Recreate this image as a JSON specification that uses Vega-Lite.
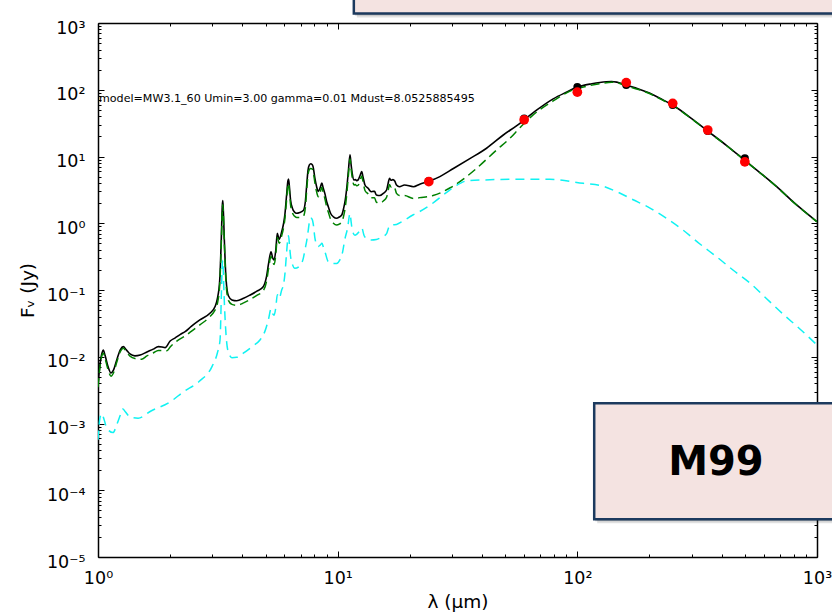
{
  "$schema": "https://vega.github.io/schema/vega-lite/v6.json",
  "width": 719,
  "height": 534,
  "autosize": {"type": "none"},
  "padding": {"left": 98, "top": 23, "right": 15, "bottom": 56},
  "background": "#ffffff",
  "config": {
    "view": {"stroke": null},
    "font": "DejaVu Sans",
    "text": {"font": "DejaVu Sans"}
  },
  "datasets": {
    "total": [
      {"wl":1.0,"f":0.0038},{"wl":1.02,"f":0.0078},{"wl":1.04,"f":0.0115},{"wl":1.052,"f":0.0126},{"wl":1.07,"f":0.0105},
      {"wl":1.1,"f":0.0072},{"wl":1.133,"f":0.0057},{"wl":1.16,"f":0.0063},{"wl":1.2,"f":0.0092},{"wl":1.24,"f":0.0128},
      {"wl":1.275,"f":0.0142},{"wl":1.31,"f":0.0128},{"wl":1.36,"f":0.011},{"wl":1.426,"f":0.0103},{"wl":1.5,"f":0.0106},
      {"wl":1.6,"f":0.0118},{"wl":1.7,"f":0.013},{"wl":1.785,"f":0.0142},{"wl":1.85,"f":0.014},{"wl":1.904,"f":0.0137},
      {"wl":2.0,"f":0.0172},{"wl":2.1,"f":0.0192},{"wl":2.2,"f":0.0215},{"wl":2.31,"f":0.0238},{"wl":2.45,"f":0.0285},
      {"wl":2.66,"f":0.0356},{"wl":2.93,"f":0.0448},{"wl":3.08,"f":0.0565},{"wl":3.15,"f":0.075},{"wl":3.22,"f":0.14},
      {"wl":3.27,"f":0.6},{"wl":3.3,"f":1.8},{"wl":3.315,"f":2.18},{"wl":3.33,"f":1.7},{"wl":3.37,"f":0.5},
      {"wl":3.42,"f":0.15},{"wl":3.5,"f":0.082},{"wl":3.62,"f":0.071},{"wl":3.79,"f":0.069},{"wl":4.05,"f":0.075},
      {"wl":4.31,"f":0.084},{"wl":4.6,"f":0.096},{"wl":4.89,"f":0.112},{"wl":5.05,"f":0.16},{"wl":5.15,"f":0.25},
      {"wl":5.27,"f":0.375},{"wl":5.36,"f":0.3},{"wl":5.43,"f":0.281},{"wl":5.52,"f":0.4},{"wl":5.6,"f":0.706},
      {"wl":5.7,"f":0.575},{"wl":5.84,"f":0.746},{"wl":5.95,"f":1.0},{"wl":6.03,"f":1.41},{"wl":6.12,"f":2.6},
      {"wl":6.2,"f":4.3},{"wl":6.24,"f":4.6},{"wl":6.3,"f":3.3},{"wl":6.36,"f":2.23},{"wl":6.48,"f":1.67},
      {"wl":6.6,"f":1.48},{"wl":6.74,"f":1.41},{"wl":6.95,"f":1.45},{"wl":7.19,"f":1.55},{"wl":7.33,"f":2.1},
      {"wl":7.43,"f":3.8},{"wl":7.52,"f":6.2},{"wl":7.62,"f":7.5},{"wl":7.72,"f":7.8},{"wl":7.82,"f":7.6},
      {"wl":7.9,"f":7.0},{"wl":8.03,"f":4.8},{"wl":8.17,"f":3.53},{"wl":8.3,"f":3.0},{"wl":8.45,"f":3.4},
      {"wl":8.59,"f":4.0},{"wl":8.7,"f":3.4},{"wl":8.84,"f":2.8},{"wl":9.0,"f":2.1},{"wl":9.14,"f":1.77},
      {"wl":9.35,"f":1.4},{"wl":9.6,"f":1.25},{"wl":9.9,"f":1.19},{"wl":10.15,"f":1.24},{"wl":10.4,"f":1.33},
      {"wl":10.6,"f":1.7},{"wl":10.75,"f":2.2},{"wl":10.95,"f":3.8},{"wl":11.1,"f":6.5},{"wl":11.26,"f":10.6},
      {"wl":11.38,"f":7.5},{"wl":11.5,"f":5.6},{"wl":11.7,"f":4.45},{"wl":11.85,"f":4.5},{"wl":12.0,"f":4.35},
      {"wl":12.2,"f":4.5},{"wl":12.4,"f":5.2},{"wl":12.6,"f":5.95},{"wl":12.75,"f":5.0},{"wl":13.0,"f":3.74},
      {"wl":13.4,"f":3.34},{"wl":13.8,"f":2.97},{"wl":14.1,"f":3.0},{"wl":14.25,"f":3.0},{"wl":14.5,"f":2.65},
      {"wl":15.0,"f":2.6},{"wl":15.5,"f":2.8},{"wl":16.0,"f":3.15},{"wl":16.25,"f":4.0},{"wl":16.45,"f":4.7},
      {"wl":16.7,"f":4.4},{"wl":17.0,"f":4.5},{"wl":17.3,"f":4.3},{"wl":17.6,"f":3.74},{"wl":18.1,"f":3.53},
      {"wl":19.0,"f":3.74},{"wl":20.7,"f":3.53},{"wl":22.0,"f":3.85},{"wl":24.0,"f":4.25},{"wl":26.7,"f":5.0},
      {"wl":30.4,"f":6.6},{"wl":35.6,"f":9.3},{"wl":41.8,"f":13.3},{"wl":49.1,"f":21.0},{"wl":57.6,"f":31.4},
      {"wl":60.1,"f":35.5},{"wl":67.8,"f":49.8},{"wl":79.3,"f":73.0},{"wl":90.0,"f":92.0},{"wl":99.0,"f":108},
      {"wl":115,"f":123},{"wl":132,"f":132},{"wl":139,"f":133},{"wl":146,"f":130},
      {"wl":158.6,"f":118},{"wl":180,"f":103},{"wl":201,"f":88.5},{"wl":225,"f":72.0},{"wl":249.6,"f":59.2},
      {"wl":300,"f":37.0},{"wl":348,"f":24.4},{"wl":420,"f":14.6},{"wl":502,"f":8.65},{"wl":590,"f":5.4},
      {"wl":679,"f":3.53},{"wl":800,"f":2.05},{"wl":1000,"f":1.055}
    ],
    "diffuse": [
      {"wl":1.0,"f":0.0035},{"wl":1.02,"f":0.0072},{"wl":1.04,"f":0.0106},{"wl":1.052,"f":0.0113},{"wl":1.07,"f":0.0095},
      {"wl":1.1,"f":0.0065},{"wl":1.133,"f":0.0051},{"wl":1.16,"f":0.0057},{"wl":1.2,"f":0.0085},{"wl":1.24,"f":0.012},
      {"wl":1.275,"f":0.0134},{"wl":1.31,"f":0.012},{"wl":1.36,"f":0.0102},{"wl":1.426,"f":0.0094},{"wl":1.52,"f":0.0092},
      {"wl":1.6,"f":0.0103},{"wl":1.7,"f":0.0114},{"wl":1.785,"f":0.0124},{"wl":1.85,"f":0.0124},{"wl":1.94,"f":0.0123},
      {"wl":2.0,"f":0.014},{"wl":2.16,"f":0.0178},{"wl":2.31,"f":0.0205},{"wl":2.45,"f":0.024},{"wl":2.66,"f":0.03},
      {"wl":2.93,"f":0.0398},{"wl":3.05,"f":0.0473},{"wl":3.15,"f":0.063},{"wl":3.22,"f":0.12},{"wl":3.27,"f":0.5},
      {"wl":3.3,"f":1.55},{"wl":3.315,"f":1.9},{"wl":3.33,"f":1.5},{"wl":3.37,"f":0.45},{"wl":3.42,"f":0.13},
      {"wl":3.5,"f":0.07},{"wl":3.62,"f":0.061},{"wl":3.79,"f":0.059},{"wl":4.05,"f":0.064},{"wl":4.31,"f":0.072},
      {"wl":4.6,"f":0.083},{"wl":4.89,"f":0.097},{"wl":5.05,"f":0.135},{"wl":5.15,"f":0.21},{"wl":5.27,"f":0.32},
      {"wl":5.36,"f":0.26},{"wl":5.43,"f":0.24},{"wl":5.52,"f":0.34},{"wl":5.6,"f":0.61},{"wl":5.7,"f":0.5},
      {"wl":5.84,"f":0.65},{"wl":5.95,"f":0.87},{"wl":6.03,"f":1.2},{"wl":6.12,"f":2.2},{"wl":6.2,"f":3.7},
      {"wl":6.24,"f":3.95},{"wl":6.3,"f":2.85},{"wl":6.36,"f":1.9},{"wl":6.48,"f":1.42},{"wl":6.6,"f":1.28},
      {"wl":6.74,"f":1.22},{"wl":6.95,"f":1.22},{"wl":7.19,"f":1.27},{"wl":7.33,"f":1.7},{"wl":7.43,"f":3.2},
      {"wl":7.52,"f":5.3},{"wl":7.62,"f":6.4},{"wl":7.72,"f":6.6},{"wl":7.82,"f":6.5},{"wl":7.9,"f":6.0},
      {"wl":8.03,"f":4.1},{"wl":8.17,"f":2.95},{"wl":8.3,"f":2.5},{"wl":8.45,"f":2.9},{"wl":8.59,"f":3.45},
      {"wl":8.7,"f":2.9},{"wl":8.84,"f":2.35},{"wl":9.0,"f":1.75},{"wl":9.14,"f":1.47},{"wl":9.35,"f":1.14},
      {"wl":9.6,"f":1.0},{"wl":9.9,"f":0.94},{"wl":10.15,"f":0.97},{"wl":10.4,"f":1.05},{"wl":10.6,"f":1.3},
      {"wl":10.75,"f":1.7},{"wl":10.95,"f":3.1},{"wl":11.1,"f":5.5},{"wl":11.26,"f":9.2},{"wl":11.38,"f":6.5},
      {"wl":11.5,"f":4.8},{"wl":11.7,"f":3.75},{"wl":11.85,"f":3.8},{"wl":12.0,"f":3.65},{"wl":12.2,"f":3.75},
      {"wl":12.4,"f":4.4},{"wl":12.6,"f":5.1},{"wl":12.75,"f":4.25},{"wl":13.0,"f":3.1},{"wl":13.4,"f":2.75},
      {"wl":13.8,"f":2.4},{"wl":14.1,"f":2.4},{"wl":14.25,"f":2.4},{"wl":14.5,"f":2.08},{"wl":15.0,"f":2.0},
      {"wl":15.5,"f":2.15},{"wl":16.0,"f":2.45},{"wl":16.25,"f":3.1},{"wl":16.45,"f":3.8},{"wl":16.7,"f":3.5},
      {"wl":17.0,"f":3.6},{"wl":17.3,"f":3.4},{"wl":17.6,"f":2.8},{"wl":18.1,"f":2.6},{"wl":19.0,"f":2.6},
      {"wl":20.7,"f":2.35},{"wl":22.0,"f":2.42},{"wl":25.0,"f":2.6},{"wl":29.5,"f":3.4},{"wl":34.5,"f":5.0},
      {"wl":37.9,"f":6.6},{"wl":46.0,"f":12.5},{"wl":52.4,"f":18.8},{"wl":57.6,"f":27.0},{"wl":65.4,"f":42.0},
      {"wl":79.3,"f":68.0},{"wl":96.2,"f":100},{"wl":105,"f":109},{"wl":124,"f":123},{"wl":139,"f":129.5},
      {"wl":146,"f":127.5},
      {"wl":158.6,"f":115.5},{"wl":180,"f":101},{"wl":201,"f":87.0},{"wl":225,"f":71.0},{"wl":249.6,"f":58.5},
      {"wl":300,"f":36.6},{"wl":348,"f":24.2},{"wl":420,"f":14.5},{"wl":502,"f":8.6},{"wl":590,"f":5.37},
      {"wl":679,"f":3.51},{"wl":800,"f":2.04},{"wl":1000,"f":1.05}
    ],
    "pdr": [
      {"wl":1.0,"f":0.00057},{"wl":1.019,"f":0.00121},{"wl":1.035,"f":0.0014},{"wl":1.06,"f":0.00115},{"wl":1.087,"f":0.00086},
      {"wl":1.155,"f":0.00073},{"wl":1.2,"f":0.00098},{"wl":1.247,"f":0.00142},{"wl":1.27,"f":0.00165},{"wl":1.3,"f":0.0015},
      {"wl":1.36,"f":0.00125},{"wl":1.47,"f":0.0012},{"wl":1.664,"f":0.00154},{"wl":1.997,"f":0.0021},{"wl":2.283,"f":0.00302},
      {"wl":2.64,"f":0.00426},{"wl":3.0,"f":0.0073},{"wl":3.15,"f":0.0115},{"wl":3.23,"f":0.0178},{"wl":3.27,"f":0.08},
      {"wl":3.3,"f":0.24},{"wl":3.315,"f":0.28},{"wl":3.33,"f":0.2},{"wl":3.37,"f":0.06},{"wl":3.42,"f":0.022},
      {"wl":3.48,"f":0.0126},{"wl":3.62,"f":0.0097},{"wl":3.79,"f":0.0098},{"wl":4.04,"f":0.0113},{"wl":4.43,"f":0.0145},
      {"wl":4.74,"f":0.0178},{"wl":4.97,"f":0.024},{"wl":5.15,"f":0.037},{"wl":5.27,"f":0.052},{"wl":5.36,"f":0.044},
      {"wl":5.43,"f":0.042},{"wl":5.52,"f":0.055},{"wl":5.6,"f":0.085},{"wl":5.7,"f":0.075},{"wl":5.84,"f":0.1},
      {"wl":5.94,"f":0.119},{"wl":6.03,"f":0.18},{"wl":6.12,"f":0.36},{"wl":6.2,"f":0.6},{"wl":6.24,"f":0.65},
      {"wl":6.3,"f":0.45},{"wl":6.36,"f":0.32},{"wl":6.48,"f":0.24},{"wl":6.63,"f":0.211},{"wl":6.95,"f":0.23},
      {"wl":7.19,"f":0.3},{"wl":7.3,"f":0.398},{"wl":7.43,"f":0.55},{"wl":7.54,"f":0.79},{"wl":7.62,"f":1.05},
      {"wl":7.72,"f":1.2},{"wl":7.82,"f":1.15},{"wl":7.9,"f":1.0},{"wl":8.04,"f":0.594},{"wl":8.17,"f":0.48},
      {"wl":8.3,"f":0.45},{"wl":8.45,"f":0.47},{"wl":8.6,"f":0.5},{"wl":8.7,"f":0.45},{"wl":8.84,"f":0.38},
      {"wl":9.14,"f":0.265},{"wl":9.5,"f":0.25},{"wl":9.9,"f":0.25},{"wl":10.2,"f":0.28},{"wl":10.5,"f":0.38},
      {"wl":10.7,"f":0.56},{"wl":11.0,"f":0.85},{"wl":11.26,"f":1.4},{"wl":11.38,"f":1.05},{"wl":11.5,"f":0.8},
      {"wl":11.8,"f":0.66},{"wl":12.0,"f":0.68},{"wl":12.3,"f":0.75},{"wl":12.6,"f":0.85},{"wl":12.9,"f":0.65},
      {"wl":13.3,"f":0.58},{"wl":13.8,"f":0.56},{"wl":14.5,"f":0.57},{"wl":15.0,"f":0.6},{"wl":16.0,"f":0.7},
      {"wl":16.3,"f":0.85},{"wl":16.6,"f":0.94},{"wl":17.0,"f":0.95},{"wl":17.6,"f":0.96},{"wl":18.5,"f":1.05},
      {"wl":20.6,"f":1.33},{"wl":22.0,"f":1.5},{"wl":24.3,"f":1.87},{"wl":28.5,"f":2.9},{"wl":31.0,"f":3.6},
      {"wl":34.5,"f":4.3},{"wl":40.5,"f":4.45},{"wl":55.7,"f":4.55},{"wl":76.7,"f":4.55},{"wl":106,"f":3.96},
      {"wl":124,"f":3.7},{"wl":146,"f":2.97},{"wl":171,"f":2.25},{"wl":201,"f":1.69},{"wl":236,"f":1.18},
      {"wl":275.8,"f":0.792},{"wl":324.7,"f":0.489},{"wl":382.3,"f":0.312},{"wl":445.8,"f":0.1995},{"wl":525,"f":0.1273},
      {"wl":618,"f":0.0733},{"wl":720.6,"f":0.0437},{"wl":848.6,"f":0.0261},{"wl":1000,"f":0.015}
    ],
    "model_phot": [
      {"wl":24,"f":4.3},{"wl":60,"f":37},{"wl":100,"f":110},{"wl":160,"f":118},
      {"wl":250,"f":59},{"wl":350,"f":24.2},{"wl":500,"f":9.4}
    ],
    "observed": [
      {"wl":24,"f":4.2},{"wl":60,"f":35.5},{"wl":100,"f":92},{"wl":160,"f":128},
      {"wl":250,"f":62.6},{"wl":350,"f":24.9},{"wl":500,"f":8.3}
    ],
    "notes": [
      {"wl":1.0,"f":72.7,"label":"model=MW3.1_60 Umin=3.00 gamma=0.01 Mdust=8.0525885495"}
    ],
    "panels": [
      {"wl":117.6,"wl2":1250,"f":0.00201,"f2":0.0000367},
      {"wl":11.68,"wl2":1250,"f":1388,"f2":3120}
    ],
    "panel_labels": [
      {"wl":378.7,"f":0.000256,"label":"M99"}
    ]
  },
  "layer": [
    {
      "data": {"name": "total"},
      "mark": {"type": "line", "color": "#000000", "strokeWidth": 1.6, "interpolate": "monotone", "clip": true},
      "encoding": {
        "x": {
          "field": "wl", "type": "quantitative",
          "scale": {"type": "log", "domain": [1, 1000], "nice": false},
          "axis": {
            "orient": "bottom",
            "values": [1,2,3,4,5,6,7,8,9,10,20,30,40,50,60,70,80,90,100,200,300,400,500,600,700,800,900,1000],
            "labelExpr": "abs(log(datum.value)/LN10 - round(log(datum.value)/LN10)) > 0.001 ? '' : '10' + replace(replace(replace(replace(replace(replace(replace('' + round(log(datum.value)/LN10), '-', '⁻'), '0', '⁰'), '1', '¹'), '2', '²'), '3', '³'), '4', '⁴'), '5', '⁵')",
            "tickSize": {"condition": {"test": "abs(log(datum.value)/LN10 - round(log(datum.value)/LN10)) < 0.001", "value": -6}, "value": -3},
            "tickColor": "#000000", "tickWidth": 1,
            "domainColor": "#000000", "domainWidth": 1.5,
            "grid": false,
            "labelFont": "DejaVu Sans", "labelFontSize": 17.5, "labelColor": "#000000",
            "labelBaseline": "alphabetic", "labelPadding": 32.5,
            "labelFlush": false, "labelOverlap": false, "labelBound": false,
            "title": "λ (μm)", "titleFont": "DejaVu Sans", "titleFontSize": 18.5, "titleFontWeight": "normal", "titleColor": "#000000",
            "titleX": 359.5, "titleY": 50, "titleBaseline": "alphabetic", "titleAlign": "center"
          }
        },
        "y": {
          "field": "f", "type": "quantitative",
          "scale": {"type": "log", "domain": [0.00001, 1000], "nice": false},
          "axis": {
            "orient": "left",
            "values": [0.00001,0.00002,0.00003,0.00004,0.00005,0.00006,0.00007,0.00008,0.00009,
                       0.0001,0.0002,0.0003,0.0004,0.0005,0.0006,0.0007,0.0008,0.0009,
                       0.001,0.002,0.003,0.004,0.005,0.006,0.007,0.008,0.009,
                       0.01,0.02,0.03,0.04,0.05,0.06,0.07,0.08,0.09,
                       0.1,0.2,0.3,0.4,0.5,0.6,0.7,0.8,0.9,
                       1,2,3,4,5,6,7,8,9,10,20,30,40,50,60,70,80,90,
                       100,200,300,400,500,600,700,800,900,1000],
            "labelExpr": "abs(log(datum.value)/LN10 - round(log(datum.value)/LN10)) > 0.001 ? '' : '10' + replace(replace(replace(replace(replace(replace(replace('' + round(log(datum.value)/LN10), '-', '⁻'), '0', '⁰'), '1', '¹'), '2', '²'), '3', '³'), '4', '⁴'), '5', '⁵')",
            "tickSize": {"condition": {"test": "abs(log(datum.value)/LN10 - round(log(datum.value)/LN10)) < 0.001", "value": -6}, "value": -3},
            "tickColor": "#000000", "tickWidth": 1,
            "domainColor": "#000000", "domainWidth": 1.5,
            "grid": false,
            "labelFont": "DejaVu Sans", "labelFontSize": 17.5, "labelColor": "#000000",
            "labelAlign": "right", "labelBaseline": "alphabetic", "labelOffset": 10, "labelPadding": 19,
            "labelFlush": false, "labelOverlap": false, "labelBound": false,
            "title": "Fᵥ (Jy)", "titleFont": "DejaVu Sans", "titleFontSize": 18.5, "titleFontWeight": "normal", "titleColor": "#000000",
            "titleX": -65, "titleY": 267, "titleAngle": 270, "titleBaseline": "alphabetic", "titleAlign": "center"
          }
        }
      }
    },
    {
      "data": {"name": "diffuse"},
      "mark": {"type": "line", "color": "#008000", "strokeWidth": 1.5, "strokeDash": [9, 5], "interpolate": "monotone", "clip": true},
      "encoding": {
        "x": {
          "field": "wl", "type": "quantitative",
          "scale": {"type": "log", "domain": [1, 1000], "nice": false},
          "axis": {
            "orient": "top",
            "values": [1,2,3,4,5,6,7,8,9,10,20,30,40,50,60,70,80,90,100,200,300,400,500,600,700,800,900,1000],
            "labels": false, "title": null, "grid": false,
            "tickSize": {"condition": {"test": "abs(log(datum.value)/LN10 - round(log(datum.value)/LN10)) < 0.001", "value": -6}, "value": -3},
            "tickColor": "#000000", "tickWidth": 1,
            "domainColor": "#000000", "domainWidth": 1.5
          }
        },
        "y": {
          "field": "f", "type": "quantitative",
          "scale": {"type": "log", "domain": [0.00001, 1000], "nice": false},
          "axis": {
            "orient": "right",
            "values": [0.00001,0.00002,0.00003,0.00004,0.00005,0.00006,0.00007,0.00008,0.00009,
                       0.0001,0.0002,0.0003,0.0004,0.0005,0.0006,0.0007,0.0008,0.0009,
                       0.001,0.002,0.003,0.004,0.005,0.006,0.007,0.008,0.009,
                       0.01,0.02,0.03,0.04,0.05,0.06,0.07,0.08,0.09,
                       0.1,0.2,0.3,0.4,0.5,0.6,0.7,0.8,0.9,
                       1,2,3,4,5,6,7,8,9,10,20,30,40,50,60,70,80,90,
                       100,200,300,400,500,600,700,800,900,1000],
            "labels": false, "title": null, "grid": false,
            "tickSize": {"condition": {"test": "abs(log(datum.value)/LN10 - round(log(datum.value)/LN10)) < 0.001", "value": -6}, "value": -3},
            "tickColor": "#000000", "tickWidth": 1,
            "domainColor": "#000000", "domainWidth": 1.5
          }
        }
      }
    },
    {
      "data": {"name": "pdr"},
      "mark": {"type": "line", "color": "#10f2f2", "strokeWidth": 1.5, "strokeDash": [9, 6], "interpolate": "monotone", "clip": true},
      "encoding": {
        "x": {"field": "wl", "type": "quantitative", "scale": {"type": "log", "domain": [1, 1000], "nice": false}, "axis": null},
        "y": {"field": "f", "type": "quantitative", "scale": {"type": "log", "domain": [0.00001, 1000], "nice": false}, "axis": null}
      }
    },
    {
      "data": {"name": "model_phot"},
      "mark": {"type": "circle", "color": "#000000", "size": 64, "opacity": 1},
      "encoding": {
        "x": {"field": "wl", "type": "quantitative", "scale": {"type": "log", "domain": [1, 1000], "nice": false}, "axis": null},
        "y": {"field": "f", "type": "quantitative", "scale": {"type": "log", "domain": [0.00001, 1000], "nice": false}, "axis": null}
      }
    },
    {
      "data": {"name": "observed"},
      "mark": {"type": "circle", "color": "#ff0000", "size": 95, "opacity": 1},
      "encoding": {
        "x": {"field": "wl", "type": "quantitative", "scale": {"type": "log", "domain": [1, 1000], "nice": false}, "axis": null},
        "y": {"field": "f", "type": "quantitative", "scale": {"type": "log", "domain": [0.00001, 1000], "nice": false}, "axis": null}
      }
    },
    {
      "data": {"name": "notes"},
      "mark": {"type": "text", "align": "left", "baseline": "middle", "dx": 1, "fontSize": 11.1, "color": "#000000", "font": "DejaVu Sans"},
      "encoding": {
        "x": {"field": "wl", "type": "quantitative", "scale": {"type": "log", "domain": [1, 1000], "nice": false}, "axis": null},
        "y": {"field": "f", "type": "quantitative", "scale": {"type": "log", "domain": [0.00001, 1000], "nice": false}, "axis": null},
        "text": {"field": "label"}
      }
    },
    {
      "data": {"name": "panels"},
      "mark": {"type": "rect", "color": "#000000", "opacity": 0.12, "clip": false, "xOffset": 3, "x2Offset": 3, "yOffset": 4, "y2Offset": 4},
      "encoding": {
        "x": {"field": "wl", "type": "quantitative", "scale": {"type": "log", "domain": [1, 1000], "nice": false}, "axis": null},
        "x2": {"field": "wl2"},
        "y": {"field": "f", "type": "quantitative", "scale": {"type": "log", "domain": [0.00001, 1000], "nice": false}, "axis": null},
        "y2": {"field": "f2"}
      }
    },
    {
      "data": {"name": "panels"},
      "mark": {"type": "rect", "color": "#000000", "opacity": 0.2, "clip": false, "xOffset": 1, "x2Offset": 1, "yOffset": 2, "y2Offset": 2},
      "encoding": {
        "x": {"field": "wl", "type": "quantitative", "scale": {"type": "log", "domain": [1, 1000], "nice": false}, "axis": null},
        "x2": {"field": "wl2"},
        "y": {"field": "f", "type": "quantitative", "scale": {"type": "log", "domain": [0.00001, 1000], "nice": false}, "axis": null},
        "y2": {"field": "f2"}
      }
    },
    {
      "data": {"name": "panels"},
      "mark": {"type": "rect", "fill": "#f4e3e1", "stroke": "#1c3a5e", "strokeWidth": 2.5, "clip": false},
      "encoding": {
        "x": {"field": "wl", "type": "quantitative", "scale": {"type": "log", "domain": [1, 1000], "nice": false}, "axis": null},
        "x2": {"field": "wl2"},
        "y": {"field": "f", "type": "quantitative", "scale": {"type": "log", "domain": [0.00001, 1000], "nice": false}, "axis": null},
        "y2": {"field": "f2"}
      }
    },
    {
      "data": {"name": "panel_labels"},
      "mark": {"type": "text", "align": "center", "baseline": "middle", "fontSize": 40, "fontWeight": "bold", "color": "#000000", "font": "DejaVu Sans"},
      "encoding": {
        "x": {"field": "wl", "type": "quantitative", "scale": {"type": "log", "domain": [1, 1000], "nice": false}, "axis": null},
        "y": {"field": "f", "type": "quantitative", "scale": {"type": "log", "domain": [0.00001, 1000], "nice": false}, "axis": null},
        "text": {"field": "label"}
      }
    }
  ],
  "resolve": {"axis": {"x": "independent", "y": "independent"}}
}
